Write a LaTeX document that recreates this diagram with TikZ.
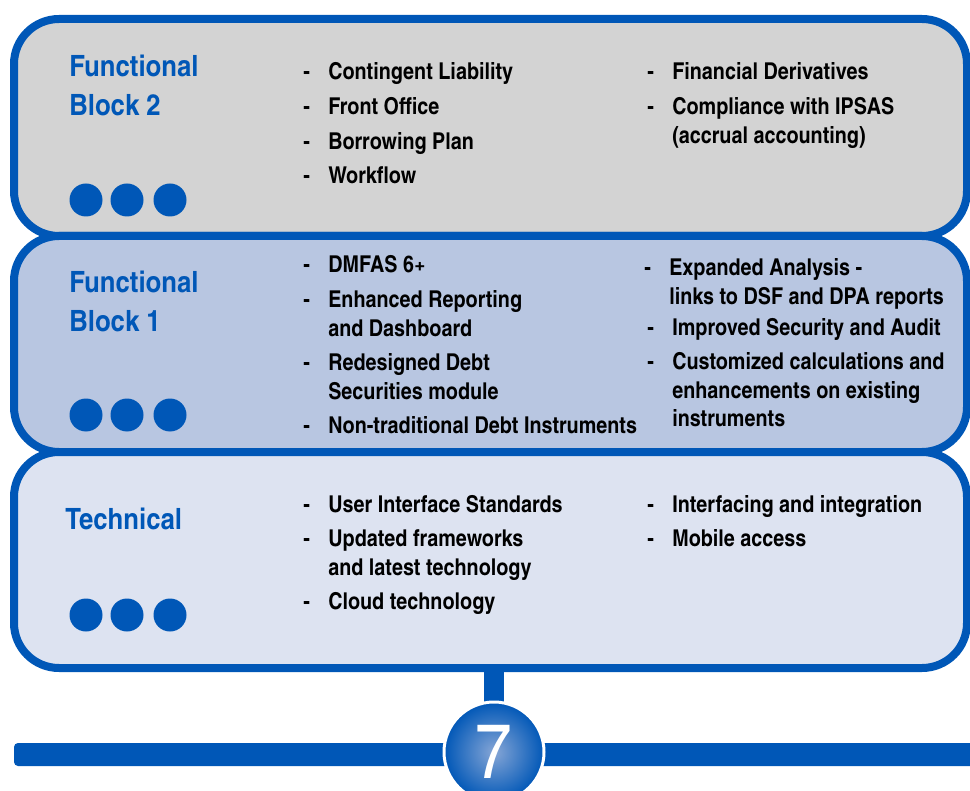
\documentclass[tikz,border=0pt]{standalone}
\usepackage{fontspec}
\setmainfont{texgyreheroscn}[Extension=.otf,UprightFont=*-regular,BoldFont=*-bold,FakeStretch=1.04]
\newfontfamily\titlefont{texgyreheroscn}[Extension=.otf,UprightFont=*-bold,FakeStretch=1.07]
\usetikzlibrary{positioning}
\definecolor{unblue}{HTML}{0057B7}
\definecolor{graybox}{HTML}{D3D3D3}
\definecolor{midbox}{HTML}{B8C6E1}
\definecolor{lightbox}{HTML}{DDE3F1}
\definecolor{glow}{HTML}{86A6D6}
\tikzstyle{block} = [rectangle, draw=unblue, line width=6pt, rounded corners=33.75pt, minimum width=714.75pt, minimum height=162pt]
\tikzstyle{title} = [anchor=base west, inner sep=0pt, text=unblue, font=\titlefont\fontsize{22}{29.25}\selectfont]
\tikzstyle{items} = [anchor=base west, inner sep=0pt, font=\fontsize{17.4}{21.5}\selectfont\bfseries]
\tikzstyle{dot} = [circle, fill=unblue, minimum size=24.75pt, inner sep=0pt]
\tikzstyle{seven} = [circle, minimum size=75pt, draw=white, line width=2.25pt, inner color=glow, outer color=unblue, text=white, font=\fontsize{58}{58}\selectfont]
\newcommand{\tb}[1]{\begin{tabular}[t]{@{}l@{}}#1\end{tabular}}
\newcommand{\lst}[1]{\begin{tabular}[t]{@{}p{18.75pt}@{}l@{}}#1\end{tabular}}

\begin{document}
\begin{tikzpicture}[x=0.75pt,y=-0.75pt]
\useasboundingbox (0,0) rectangle (970,791);

% the three blocks
\node (block2) [block, fill=graybox, minimum height=162.75pt] at (490.5,127.5) {};
\node (block1) [block, fill=midbox] at (490.5,344) {};
\node (tech) [block, fill=lightbox] at (490.5,560) {};

% Functional Block 2
\node (t2) [title] at (69,77) {\tb{Functional\\ Block 2}};
\node (l2a) [items] at (303,80) {\lst{
 - & Contingent Liability\\[4.4pt]
 - & Front Office\\[4.4pt]
 - & Borrowing Plan\\[4.4pt]
 - & Workflow}};
\node (l2b) [items] at (647,80) {\lst{
 - & Financial Derivatives\\[4.4pt]
 - & Compliance with IPSAS\\
   & (accrual accounting)}};
\foreach \x [count=\i] in {86,127,170}
  \node (d2\i) [dot] at (\x,200) {};

% Functional Block 1
\node (t1) [title] at (69,293) {\tb{Functional\\ Block 1}};
\node (l1a) [items] at (303,273) {\lst{
 - & DMFAS 6+\\[4.4pt]
 - & Enhanced Reporting\\
   & and Dashboard\\[4.4pt]
 - & Redesigned Debt\\
   & Securities module\\[4.4pt]
 - & Non-traditional Debt Instruments}};
\node (l1b) [items] at (644,276) {\lst{
 - & Expanded Analysis -\\
   & links to DSF and DPA reports}};
\node (l1c) [items] at (647,335) {\lst{
 - & Improved Security and Audit\\[4.4pt]
 - & Customized calculations and\\
   & enhancements on existing\\
   & instruments}};
\foreach \x [count=\i] in {86,127,170}
  \node (d1\i) [dot] at (\x,415) {};

% Technical
\node (t0) [title] at (65,529) {Technical};
\node (l0a) [items] at (303,512) {\lst{
 - & User Interface Standards\\[4.4pt]
 - & Updated frameworks\\
   & and latest technology\\[4.4pt]
 - & Cloud technology}};
\node (l0b) [items] at (647,512) {\lst{
 - & Interfacing and integration\\[4.4pt]
 - & Mobile access}};
\foreach \x [count=\i] in {86,127,170}
  \node (d0\i) [dot] at (\x,615) {};

% timeline
\coordinate (sevenc) at (494,752);
\coordinate (barL) at (14,743);
\coordinate (barR) at (990,766);
\fill[unblue, rounded corners=3pt] (barL) rectangle (barR);
\draw[unblue, line width=15pt] (sevenc |- tech.south) -- (sevenc);
\node (seven) [seven] at (sevenc) {7};
\end{tikzpicture}
\end{document}
